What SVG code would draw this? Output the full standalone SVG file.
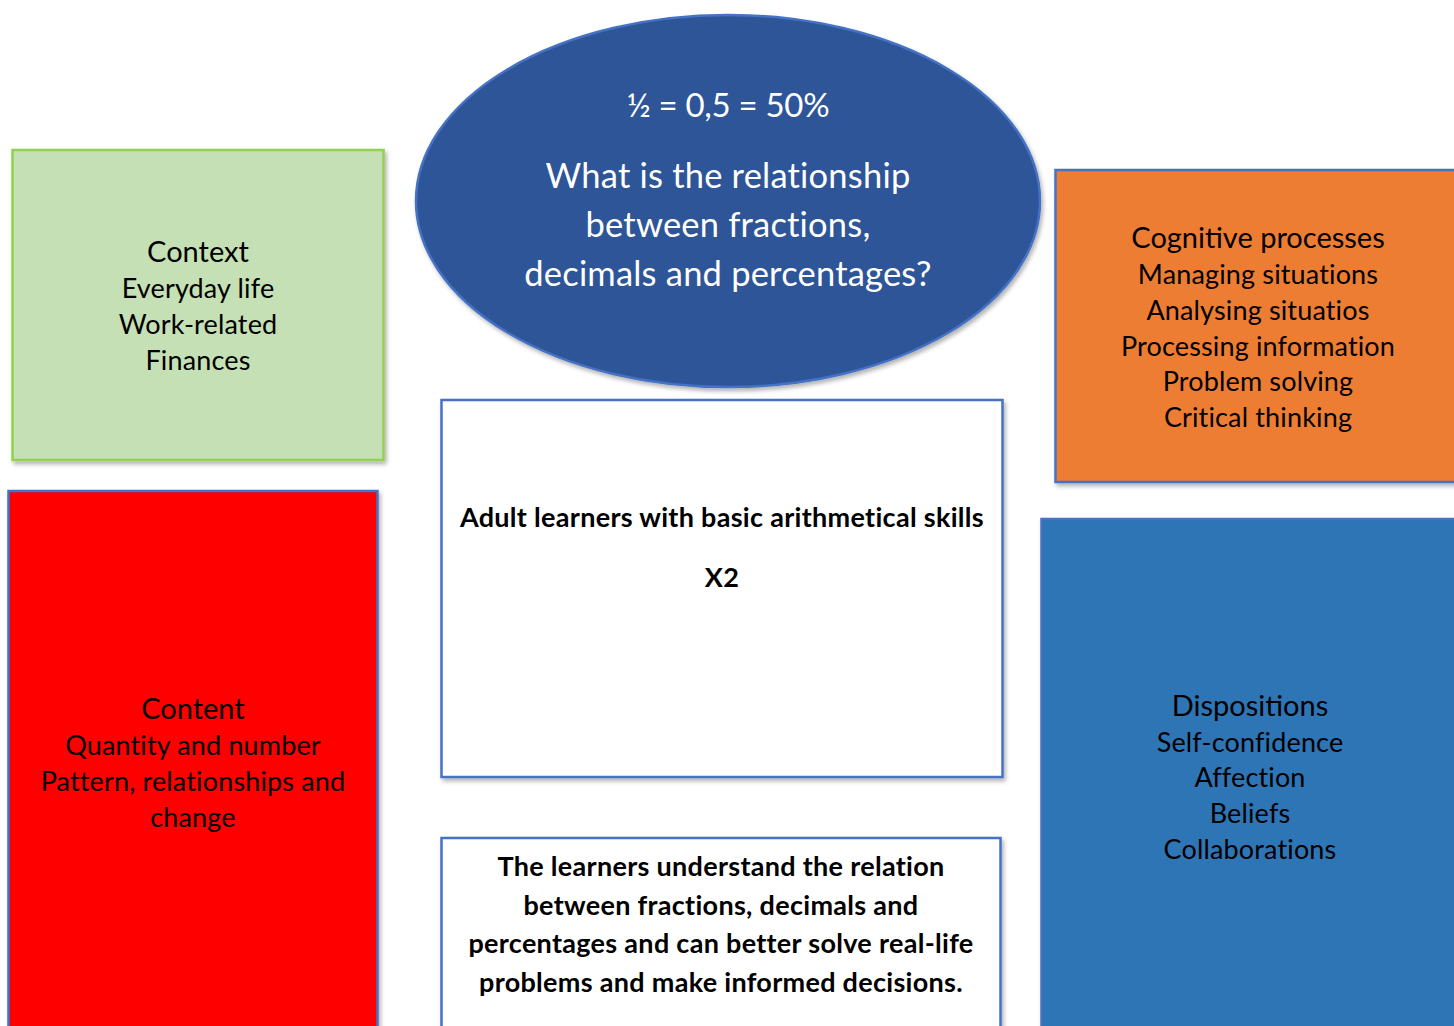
<svg xmlns="http://www.w3.org/2000/svg" width="1454" height="1026" viewBox="0 0 1454 1026">
<defs>
<filter id="sh" x="-5%" y="-5%" width="115%" height="115%">
<feDropShadow dx="2" dy="3" stdDeviation="2" flood-color="#000" flood-opacity="0.3"/>
</filter>
</defs>
<style>
text{font-family:Lato,"Open Sans","Liberation Sans",sans-serif;text-anchor:middle;fill:#000}
.h{font-size:29px}
.b{font-size:27px;letter-spacing:0.15px}
.w{fill:#fff;font-size:34.5px;letter-spacing:0.2px}
.bold{font-weight:bold;font-size:27px;letter-spacing:0.3px}
.box{stroke-width:2.5}
</style>
<rect width="1454" height="1026" fill="#fff"/>
<g id="connectors"></g>
<g id="question">
<ellipse cx="728" cy="201" rx="312" ry="186" fill="#2F5597" stroke="#4472C4" stroke-width="2.5" filter="url(#sh)"/>
<text class="w" x="728" y="117" style="font-size:33px;letter-spacing:-0.3px">½ = 0,5 = 50%</text>
<text class="w" x="728" y="188">What is the relationship</text>
<text class="w" x="728" y="237">between fractions,</text>
<text class="w" x="728" y="286">decimals and percentages?</text>
</g>
<g id="context">
<rect class="box" x="12.5" y="150" width="371" height="310" fill="#C5E0B4" stroke="#92D050" filter="url(#sh)"/>
<text class="h" x="198" y="262">Context</text>
<text class="b" x="198" y="298">Everyday life</text>
<text class="b" x="198" y="334">Work-related</text>
<text class="b" x="198" y="370">Finances</text>
</g>
<g id="content">
<rect class="box" x="8.5" y="491" width="369" height="545" fill="#FF0000" stroke="#4472C4" filter="url(#sh)"/>
<text class="h" x="193" y="719">Content</text>
<text class="b" x="193" y="755">Quantity and number</text>
<text class="b" x="193" y="791">Pattern, relationships and</text>
<text class="b" x="193" y="827">change</text>
</g>
<g id="cognitive">
<rect class="box" x="1055.5" y="170" width="410" height="312" fill="#ED7D31" stroke="#4472C4" filter="url(#sh)"/>
<text class="h" x="1258" y="248">Cognitive processes</text>
<text class="b" x="1258" y="284">Managing situations</text>
<text class="b" x="1258" y="320">Analysing situatios</text>
<text class="b" x="1258" y="356">Processing information</text>
<text class="b" x="1258" y="391">Problem solving</text>
<text class="b" x="1258" y="427">Critical thinking</text>
</g>
<g id="dispositions">
<rect class="box" x="1041.5" y="519" width="430" height="520" fill="#2E74B5" stroke="#4472C4" filter="url(#sh)"/>
<text class="h" x="1250" y="716">Dispositions</text>
<text class="b" x="1250" y="752">Self-confidence</text>
<text class="b" x="1250" y="787">Affection</text>
<text class="b" x="1250" y="823">Beliefs</text>
<text class="b" x="1250" y="859">Collaborations</text>
</g>
<g id="learners">
<rect class="box" x="441.5" y="400" width="561" height="377" fill="#fff" stroke="#4472C4" filter="url(#sh)"/>
<text class="bold" x="722" y="527">Adult learners with basic arithmetical skills</text>
<text class="bold" x="722" y="587">X2</text>
</g>
<g id="outcome">
<rect class="box" x="441.5" y="838" width="559" height="200" fill="#fff" stroke="#4472C4" filter="url(#sh)"/>
<text class="bold" x="721" y="876">The learners understand the relation</text>
<text class="bold" x="721" y="915">between fractions, decimals and</text>
<text class="bold" x="721" y="953">percentages and can better solve real-life</text>
<text class="bold" x="721" y="992">problems and make informed decisions.</text>
</g>
</svg>
